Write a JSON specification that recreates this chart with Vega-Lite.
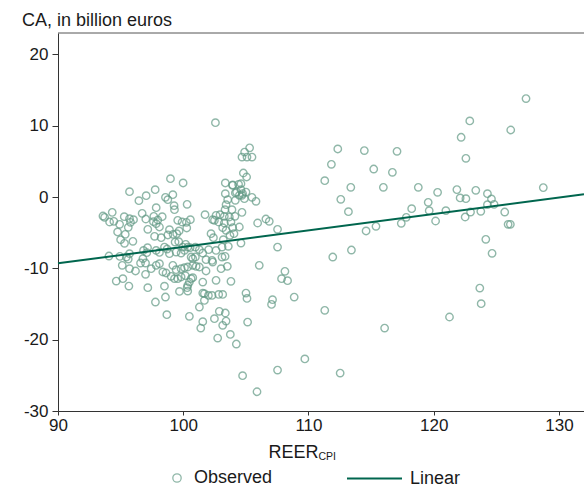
{
  "$schema": "https://vega.github.io/schema/vega-lite/v6.json",
  "width": 526,
  "height": 378,
  "autosize": {"type": "none"},
  "padding": {"left": 58, "top": 33, "right": 0, "bottom": 73},
  "background": "white",
  "title": {"text": "CA, in billion euros", "anchor": "start", "frame": "group", "dx": -36, "dy": 19, "offset": 8, "baseline": "alphabetic", "font": "Liberation Sans", "fontSize": 18, "fontWeight": "normal", "color": "#1a1a1a"},
  "datasets": {
    "obs": [
      {"reer":104.69,"ca":5.6},{"reer":105.09,"ca":5.6},{"reer":105.49,"ca":5.6},{"reer":104.8,"ca":3.37},{"reer":105.06,"ca":2.81},{"reer":103.36,"ca":1.97},{"reer":103.95,"ca":1.69},{"reer":104.61,"ca":1.87},{"reer":98.98,"ca":2.58},{"reer":99.99,"ca":1.97},{"reer":95.71,"ca":0.75},{"reer":97.04,"ca":0.19},{"reer":97.76,"ca":1.03},{"reer":96.46,"ca":-0.51},{"reer":98.58,"ca":-0.04},{"reer":99.17,"ca":0.33},{"reer":98.77,"ca":-0.37},{"reer":103.36,"ca":0.47},{"reer":104.16,"ca":0.57},{"reer":104.61,"ca":1.03},{"reer":104.69,"ca":0.24},{"reer":104.88,"ca":-0.23},{"reer":105.49,"ca":-0.04},{"reer":105.81,"ca":-0.6},{"reer":100.31,"ca":-1.02},{"reer":99.27,"ca":-1.21},{"reer":99.3,"ca":-1.77},{"reer":97.84,"ca":-1.49},{"reer":103.55,"ca":-0.37},{"reer":103.42,"ca":-1.07},{"reer":103.89,"ca":-1.77},{"reer":103.34,"ca":-1.77},{"reer":93.59,"ca":-2.66},{"reer":94.33,"ca":-2.15},{"reer":93.72,"ca":-2.85},{"reer":94.12,"ca":-3.5},{"reer":94.46,"ca":-3.41},{"reer":94.92,"ca":-3.83},{"reer":95.29,"ca":-2.75},{"reer":95.71,"ca":-3.03},{"reer":96.03,"ca":-3.17},{"reer":95.79,"ca":-3.55},{"reer":95.61,"ca":-4.25},{"reer":96.72,"ca":-2.29},{"reer":97.01,"ca":-3.08},{"reer":97.65,"ca":-2.71},{"reer":97.97,"ca":-3.22},{"reer":98.32,"ca":-2.75},{"reer":97.62,"ca":-3.45},{"reer":97.84,"ca":-3.74},{"reer":98.1,"ca":-4.2},{"reer":99.56,"ca":-3.27},{"reer":99.91,"ca":-3.5},{"reer":100.25,"ca":-3.55},{"reer":100.57,"ca":-3.17},{"reer":100.28,"ca":-4.34},{"reer":99.67,"ca":-4.76},{"reer":98.9,"ca":-4.58},{"reer":98.77,"ca":-5.32},{"reer":99.19,"ca":-5.23},{"reer":99.48,"ca":-5.14},{"reer":101.74,"ca":-2.47},{"reer":102.62,"ca":-2.57},{"reer":102.94,"ca":-2.47},{"reer":103.28,"ca":-2.71},{"reer":103.68,"ca":-2.8},{"reer":104.13,"ca":-2.71},{"reer":104.69,"ca":-2.15},{"reer":102.35,"ca":-3.17},{"reer":102.49,"ca":-3.27},{"reer":102.83,"ca":-3.5},{"reer":103.28,"ca":-3.64},{"reer":103.81,"ca":-3.5},{"reer":103.15,"ca":-4.3},{"reer":103.42,"ca":-4.67},{"reer":103.95,"ca":-4.3},{"reer":104.48,"ca":-4.2},{"reer":105.94,"ca":-3.64},{"reer":106.6,"ca":-3.08},{"reer":106.87,"ca":-3.41},{"reer":107.53,"ca":-4.53},{"reer":94.76,"ca":-4.9},{"reer":95.37,"ca":-5.23},{"reer":95.0,"ca":-5.98},{"reer":95.31,"ca":-6.49},{"reer":95.98,"ca":-6.21},{"reer":97.17,"ca":-4.53},{"reer":97.71,"ca":-5.51},{"reer":98.24,"ca":-5.7},{"reer":99.35,"ca":-6.31},{"reer":99.64,"ca":-6.26},{"reer":99.96,"ca":-7.01},{"reer":100.2,"ca":-6.63},{"reer":100.55,"ca":-7.1},{"reer":100.97,"ca":-7.01},{"reer":102.22,"ca":-5.14},{"reer":102.41,"ca":-5.7},{"reer":103.2,"ca":-5.98},{"reer":103.73,"ca":-5.37},{"reer":104.05,"ca":-5.14},{"reer":104.61,"ca":-6.45},{"reer":103.1,"ca":-7.01},{"reer":103.6,"ca":-6.91},{"reer":107.53,"ca":-7.01},{"reer":94.07,"ca":-8.27},{"reer":94.94,"ca":-8.32},{"reer":95.45,"ca":-8.41},{"reer":95.71,"ca":-7.94},{"reer":95.61,"ca":-8.69},{"reer":97.15,"ca":-7.1},{"reer":96.83,"ca":-7.48},{"reer":97.09,"ca":-7.8},{"reer":96.78,"ca":-8.64},{"reer":97.84,"ca":-7.48},{"reer":98.1,"ca":-7.76},{"reer":98.5,"ca":-7.01},{"reer":98.71,"ca":-7.29},{"reer":98.9,"ca":-7.94},{"reer":99.43,"ca":-7.71},{"reer":99.83,"ca":-7.85},{"reer":100.1,"ca":-7.48},{"reer":100.36,"ca":-7.01},{"reer":100.63,"ca":-8.41},{"reer":100.76,"ca":-8.64},{"reer":100.97,"ca":-8.41},{"reer":101.29,"ca":-7.38},{"reer":101.56,"ca":-7.85},{"reer":102.03,"ca":-7.38},{"reer":101.82,"ca":-8.78},{"reer":102.3,"ca":-8.88},{"reer":102.62,"ca":-7.48},{"reer":103.1,"ca":-8.41},{"reer":103.34,"ca":-8.32},{"reer":95.13,"ca":-9.58},{"reer":95.71,"ca":-10.05},{"reer":96.19,"ca":-10.37},{"reer":96.99,"ca":-9.25},{"reer":96.59,"ca":-9.25},{"reer":97.44,"ca":-10.05},{"reer":97.84,"ca":-9.58},{"reer":98.1,"ca":-9.35},{"reer":98.37,"ca":-10.51},{"reer":98.63,"ca":-10.65},{"reer":99.17,"ca":-9.58},{"reer":99.43,"ca":-10.19},{"reer":99.83,"ca":-10.05},{"reer":100.1,"ca":-9.91},{"reer":100.36,"ca":-9.81},{"reer":100.76,"ca":-9.58},{"reer":101.03,"ca":-9.72},{"reer":101.29,"ca":-9.81},{"reer":101.82,"ca":-10.37},{"reer":102.35,"ca":-9.11},{"reer":103.02,"ca":-10.05},{"reer":103.52,"ca":-9.72},{"reer":106.07,"ca":-9.58},{"reer":94.65,"ca":-11.78},{"reer":95.18,"ca":-11.45},{"reer":95.66,"ca":-12.48},{"reer":97.17,"ca":-12.71},{"reer":96.99,"ca":-10.84},{"reer":99.03,"ca":-11.12},{"reer":99.3,"ca":-11.45},{"reer":99.56,"ca":-11.45},{"reer":99.83,"ca":-11.21},{"reer":100.17,"ca":-11.03},{"reer":100.63,"ca":-11.45},{"reer":100.49,"ca":-11.92},{"reer":100.36,"ca":-12.38},{"reer":100.31,"ca":-12.71},{"reer":100.36,"ca":-13.18},{"reer":100.76,"ca":-11.31},{"reer":101.56,"ca":-11.92},{"reer":102.62,"ca":-11.68},{"reer":103.81,"ca":-11.82},{"reer":101.56,"ca":-13.46},{"reer":101.69,"ca":-13.55},{"reer":102.01,"ca":-13.79},{"reer":102.3,"ca":-13.79},{"reer":102.83,"ca":-13.65},{"reer":103.15,"ca":-13.65},{"reer":105.01,"ca":-13.46},{"reer":105.09,"ca":-14.21},{"reer":107.13,"ca":-14.39},{"reer":107.05,"ca":-15.05},{"reer":97.78,"ca":-14.72},{"reer":98.58,"ca":-14.02},{"reer":99.7,"ca":-13.23},{"reer":101.29,"ca":-15.42},{"reer":101.69,"ca":-14.49},{"reer":98.69,"ca":-16.5},{"reer":100.49,"ca":-16.73},{"reer":101.56,"ca":-17.48},{"reer":102.49,"ca":-17.06},{"reer":102.88,"ca":-16.03},{"reer":103.36,"ca":-16.26},{"reer":103.42,"ca":-17.39},{"reer":103.15,"ca":-17.99},{"reer":105.14,"ca":-17.53},{"reer":101.4,"ca":-18.37},{"reer":102.75,"ca":-19.77},{"reer":103.76,"ca":-19.26},{"reer":104.24,"ca":-20.61},
      {"reer":104.9,"ca":6.3},{"reer":105.3,"ca":6.9},{"reer":102.57,"ca":10.43},{"reer":98.5,"ca":-12.5},{"reer":108.86,"ca":-14.03},{"reer":108.12,"ca":-10.42},{"reer":107.85,"ca":-11.45},{"reer":108.33,"ca":-11.73},{"reer":107.53,"ca":-24.26},{"reer":109.71,"ca":-22.7},{"reer":104.74,"ca":-25.05},{"reer":105.89,"ca":-27.3},
      {"reer":103.94,"ca":1.64},{"reer":104.42,"ca":1.78},{"reer":104.26,"ca":0.7},{"reer":104.48,"ca":0.24},{"reer":104.74,"ca":0.48},{"reer":105.01,"ca":0.7},{"reer":104.16,"ca":-0.46},
      {"reer":127.37,"ca":13.8},{"reer":122.88,"ca":10.67},{"reer":126.15,"ca":9.4},{"reer":122.19,"ca":8.38},{"reer":122.57,"ca":5.43},{"reer":112.34,"ca":6.74},{"reer":114.46,"ca":6.51},{"reer":117.07,"ca":6.41},{"reer":111.83,"ca":4.59},{"reer":115.21,"ca":3.93},{"reer":116.7,"ca":3.47},{"reer":111.3,"ca":2.3},{"reer":113.38,"ca":1.36},{"reer":115.98,"ca":1.36},{"reer":118.77,"ca":1.36},{"reer":112.58,"ca":-0.32},{"reer":113.19,"ca":-2.05},{"reer":120.31,"ca":0.66},{"reer":121.85,"ca":1.04},{"reer":123.36,"ca":0.94},{"reer":122.11,"ca":-0.13},{"reer":122.57,"ca":-0.23},{"reer":124.29,"ca":0.47},{"reer":124.61,"ca":-0.27},{"reer":124.29,"ca":-1.07},{"reer":124.82,"ca":-1.02},{"reer":119.56,"ca":-0.74},{"reer":118.24,"ca":-1.63},{"reer":119.64,"ca":-1.91},{"reer":120.97,"ca":-1.91},{"reer":117.81,"ca":-2.84},{"reer":117.41,"ca":-3.69},{"reer":120.15,"ca":-3.36},{"reer":122.94,"ca":-2.1},{"reer":123.76,"ca":-2.0},{"reer":122.51,"ca":-2.8},{"reer":125.67,"ca":-2.1},{"reer":128.75,"ca":1.32},{"reer":125.94,"ca":-3.83},{"reer":126.12,"ca":-3.83},{"reer":115.39,"ca":-4.11},{"reer":114.6,"ca":-4.76},{"reer":124.16,"ca":-5.93},{"reer":124.66,"ca":-7.89},{"reer":113.43,"ca":-7.43},{"reer":111.94,"ca":-8.41},{"reer":111.3,"ca":-15.89},{"reer":123.68,"ca":-12.76},{"reer":123.79,"ca":-14.95},{"reer":121.26,"ca":-16.82},{"reer":116.08,"ca":-18.37},{"reer":112.53,"ca":-24.68}
    ],
    "fit": [
      {"reer": 90, "ca": -9.3},
      {"reer": 132, "ca": 0.4}
    ]
  },
  "layer": [
    {
      "data": {"name": "obs"},
      "mark": {"type": "point", "filled": false, "size": 55, "strokeWidth": 1.4, "clip": true},
      "encoding": {
        "x": {"field": "reer", "type": "quantitative", "scale": {"domain": [90, 132], "nice": false, "zero": false},
              "axis": {"values": [90, 100, 110, 120, 130], "tickSize": 4, "labelPadding": 2, "labelFlush": false, "title": "REER", "titleFontSize": 18, "titleFontWeight": "normal", "titleColor": "#1a1a1a", "titleX": 235, "titleY": 46, "titleAlign": "center", "titleBaseline": "alphabetic"}},
        "y": {"field": "ca", "type": "quantitative", "scale": {"domain": [-30, 23], "nice": false, "zero": false},
              "axis": {"values": [-30, -20, -10, 0, 10, 20], "tickSize": 6, "labelPadding": 4, "labelFlush": false, "labelExpr": "datum.value < 0 ? '-' + abs(datum.value) : '' + datum.value", "title": null}},
        "color": {"datum": "Observed", "scale": {"range": ["#629a85"]},
                  "legend": {"orient": "none", "legendX": 110, "legendY": 436, "title": null, "symbolSize": 70, "symbolStrokeWidth": 1.3, "labelOffset": 8}}
      }
    },
    {
      "data": {"name": "fit"},
      "mark": {"type": "line", "strokeWidth": 2},
      "encoding": {
        "x": {"field": "reer", "type": "quantitative",
              "axis": {"orient": "bottom", "labels": false, "ticks": false, "domain": false, "title": "CPI", "titleFontSize": 10.5, "titleFontWeight": "normal", "titleColor": "#1a1a1a", "titleX": 260, "titleY": 48, "titleAlign": "left", "titleBaseline": "alphabetic"}},
        "y": {"field": "ca", "type": "quantitative"},
        "stroke": {"datum": "Linear", "scale": {"range": ["#00664e"]},
                   "legend": {"orient": "none", "legendX": 288, "legendY": 417, "title": null, "symbolType": "stroke", "symbolSize": 3025, "symbolStrokeWidth": 2, "labelOffset": 7}}
      }
    },
    {
      "data": {"values": [{}]},
      "mark": {"type": "rule", "color": "#555555", "strokeWidth": 1},
      "encoding": {"y": {"datum": 23}}
    }
  ],
  "resolve": {"axis": {"x": "independent"}},
  "config": {
    "view": {"stroke": null},
    "font": "Liberation Sans",
    "axis": {"grid": false, "domainColor": "#333333", "tickColor": "#333333", "labelFont": "Liberation Sans", "labelFontSize": 17, "labelColor": "#1a1a1a", "titleFont": "Liberation Sans"},
    "legend": {"labelFont": "Liberation Sans", "labelFontSize": 18, "labelColor": "#1a1a1a", "padding": 0}
  }
}
